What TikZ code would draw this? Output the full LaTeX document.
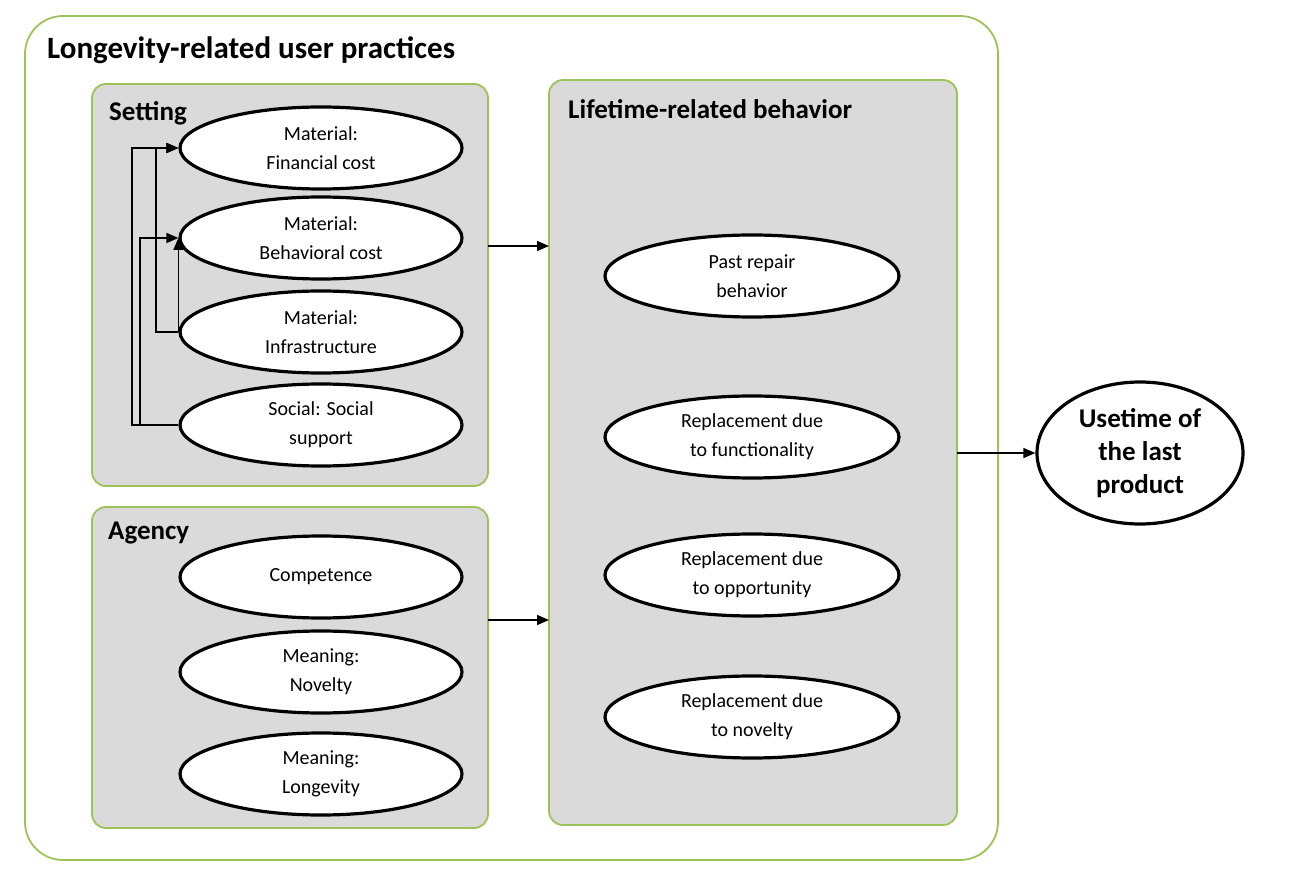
\documentclass[tikz,border=0pt]{standalone}
\usepackage{fontspec}
\setmainfont{Carlito}
\usetikzlibrary{shapes.geometric,arrows.meta}
\definecolor{grn}{HTML}{9CC35A}
\definecolor{boxgray}{HTML}{DADADA}
\tikzset{
  panel/.style={draw=grn, line width=1.8pt, fill=boxgray, rounded corners=14pt},
  oval/.style={ellipse, draw=black, line width=3.2pt, fill=white, inner sep=0pt,
     minimum width=282pt, minimum height=82pt, align=center,
     font=\fontsize{20}{29}\selectfont},
  lt/.style={oval, minimum width=294pt},
  conn/.style={draw=black, line width=1.6pt},
  arr/.style={conn, -{Triangle[length=12pt,width=10pt]}},
  ttl/.style={anchor=west, inner sep=0pt, font=\bfseries\fontsize{27}{31}\selectfont},
}
\begin{document}
\begin{tikzpicture}[x=1pt,y=-1pt]
\useasboundingbox (0,0) rectangle (1304,882);
\fill[white] (0,0) rectangle (1304,882);
% outer frame
\draw[draw=grn, line width=1.8pt, rounded corners=38pt] (25,16) rectangle (998,860);
\node[anchor=west, inner sep=0pt, font=\bfseries\fontsize{31}{36}\selectfont] (title) at (47,50) {Longevity-related user practices};
% panels
\draw[panel] (92,84) rectangle (488,486);
\draw[panel] (92,507) rectangle (488,828);
\draw[panel] (549,80) rectangle (957,825);
\coordinate (setE) at (488,246);
\coordinate (agE) at (488,620);
\coordinate (ltW1) at (549,246);
\coordinate (ltW2) at (549,620);
\coordinate (ltE) at (957,453);
\node[ttl] (setting) at (109,113) {Setting};
\node[ttl] (agency) at (108,533) {Agency};
\node[ttl] (lifetime) at (568,109) {Lifetime-related behavior};
% setting ovals
\node[oval] (fin) at (321,148) {Material:\\Financial cost};
\node[oval] (beh) at (321,238) {Material:\\Behavioral cost};
\node[oval] (inf) at (321,332) {Material:\\Infrastructure};
\node[oval] (soc) at (321,425) {Social: Social\\support};
% agency ovals
\node[oval] (comp) at (321,577) {Competence};
\node[oval] (nov) at (321,672) {Meaning:\\Novelty};
\node[oval] (lon) at (321,774) {Meaning:\\Longevity};
% lifetime ovals
\node[lt] (rep) at (752,276) {Past repair\\behavior};
\node[lt] (fun) at (752,437) {Replacement due\\to functionality};
\node[lt] (opp) at (752,575) {Replacement due\\to opportunity};
\node[lt] (rnov) at (752,717) {Replacement due\\to novelty};
% outcome
\node[ellipse, draw=black, line width=3.2pt, fill=white, inner sep=0pt,
      minimum width=206pt, minimum height=142pt, align=center,
      font=\bfseries\fontsize{27}{33}\selectfont] (use) at (1140,453) {Usetime of\\the last\\product};
% internal connectors
\draw[arr] (soc.west) -| (132,148) -- (fin.west);
\draw[arr] (soc.west) -| (140,238) -- (beh.west);
\draw[arr] (inf.west) -| (156,148) -- (fin.west);
\draw[arr] (inf.west) -- (beh.west);
% panel arrows
\draw[arr] (setE) -- (ltW1);
\draw[arr] (agE) -- (ltW2);
\draw[arr] (ltE) -- (use.west);
\end{tikzpicture}
\end{document}
